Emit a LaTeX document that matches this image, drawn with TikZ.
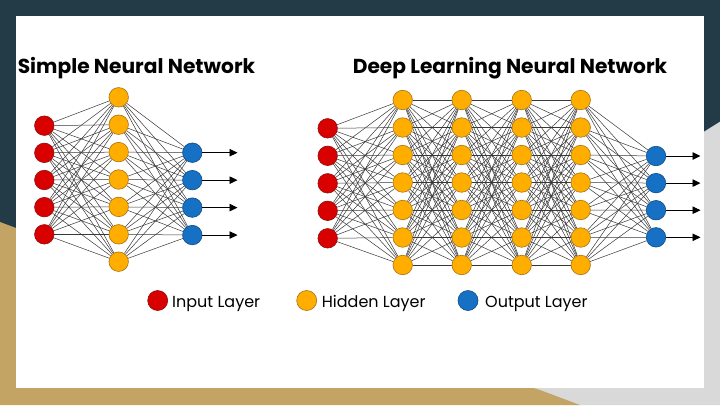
\documentclass[tikz,border=0pt]{standalone}
\usepackage{fontspec}
\setmainfont{Poppins}
\usetikzlibrary{arrows.meta}
\definecolor{navy}{HTML}{233A47}
\definecolor{lgray}{HTML}{D9D9D9}
\definecolor{gold}{HTML}{C4A464}
\definecolor{inred}{HTML}{D90000}
\definecolor{inredb}{HTML}{8E0F0F}
\definecolor{hidor}{HTML}{FFAE00}
\definecolor{hidorb}{HTML}{A67313}
\definecolor{outbl}{HTML}{1670C4}
\definecolor{outblb}{HTML}{0E4C86}
\pgfdeclarelayer{bg}
\pgfdeclarelayer{edges}
\pgfsetlayers{bg,edges,main}
\begin{document}
\begin{tikzpicture}[x=1pt,y=-1pt,
  neuron/.style={circle,minimum size=19.5pt,inner sep=0pt,line width=0.6pt},
  inp/.style={neuron,fill=inred,draw=inredb},
  hid/.style={neuron,fill=hidor,draw=hidorb},
  outp/.style={neuron,fill=outbl,draw=outblb},
  legdot/.style={circle,minimum size=20pt,inner sep=0pt,line width=0.6pt},
  edge/.style={draw=black!78,line width=0.5pt},
  outarrow/.style={draw=black,line width=0.9pt,-{Triangle[length=8pt,width=7.5pt]}},
  title/.style={font=\bfseries\fontsize{20.2}{23}\selectfont,text=black,anchor=base},
  legend/.style={font=\fontsize{16}{18}\selectfont,anchor=base west,text=black,inner sep=0pt}]
\useasboundingbox (0,0) rectangle (720,405);
% background
\begin{pgfonlayer}{bg}
\fill[navy] (0,0) rectangle (720,405);
\fill[lgray] (720,121.7) -- (704,131.7) -- (480,388) -- (480,405) -- (720,405) -- cycle;
\fill[gold] (0,222) -- (20,229.5) -- (540,390) -- (580,405) -- (0,405) -- cycle;
\fill[white] (16,16) rectangle (704,388);
\end{pgfonlayer}

% titles
\node[title] (t1) at (136.5,73.3) {Simple Neural Network};
\node[title] (t2) at (510,73.3) {Deep Learning Neural Network};

% simple network
\foreach \i in {1,...,5} \node[inp] (si\i) at (44.3,{125.7+(\i-1)*27.15}) {};
\foreach \i in {1,...,7} \node[hid] (sh\i) at (118.7,{97.3+(\i-1)*27.4}) {};
\foreach \i in {1,...,4} {
  \node[outp] (so\i) at (192.3,{152.7+(\i-1)*27.45}) {};
  \coordinate (sa\i) at (237.5,{152.7+(\i-1)*27.45});
  \draw[outarrow] (so\i) -- (sa\i);
}
\begin{pgfonlayer}{edges}
\foreach \i in {1,...,5} \foreach \j in {1,...,7} \draw[edge] (si\i) -- (sh\j);
\foreach \i in {1,...,7} \foreach \j in {1,...,4} \draw[edge] (sh\i) -- (so\j);
\end{pgfonlayer}

% deep network
\foreach \i in {1,...,5} \node[inp] (di\i) at (327.7,{128.3+(\i-1)*27.5}) {};
\foreach \l/\x in {1/402.7,2/461.7,3/521.7,4/580.7}
  \foreach \i in {1,...,7} \node[hid] (d\l h\i) at (\x,{100+(\i-1)*27.5}) {};
\foreach \i in {1,...,4} {
  \node[outp] (do\i) at (656,{156+(\i-1)*27.1}) {};
  \coordinate (da\i) at (700.5,{156+(\i-1)*27.1});
  \draw[outarrow] (do\i) -- (da\i);
}
\begin{pgfonlayer}{edges}
\foreach \i in {1,...,5} \foreach \j in {1,...,7} \draw[edge] (di\i) -- (d1h\j);
\foreach \l/\m in {1/2,2/3,3/4}
  \foreach \i in {1,...,7} \foreach \j in {1,...,7} \draw[edge] (d\l h\i) -- (d\m h\j);
\foreach \i in {1,...,7} \foreach \j in {1,...,4} \draw[edge] (d4h\i) -- (do\j);
\end{pgfonlayer}

% legend
\node[legdot,fill=inred,draw=inredb] (l1) at (157.7,300.5) {};
\node[legend] (lt1) at (172,307.3) {Input Layer};
\node[legdot,fill=hidor,draw=hidorb] (l2) at (306.7,300.5) {};
\node[legend] (lt2) at (321.7,307.3) {Hidden Layer};
\node[legdot,fill=outbl,draw=outblb] (l3) at (468,300.5) {};
\node[legend] (lt3) at (485,307.3) {Output Layer};
\end{tikzpicture}
\end{document}
